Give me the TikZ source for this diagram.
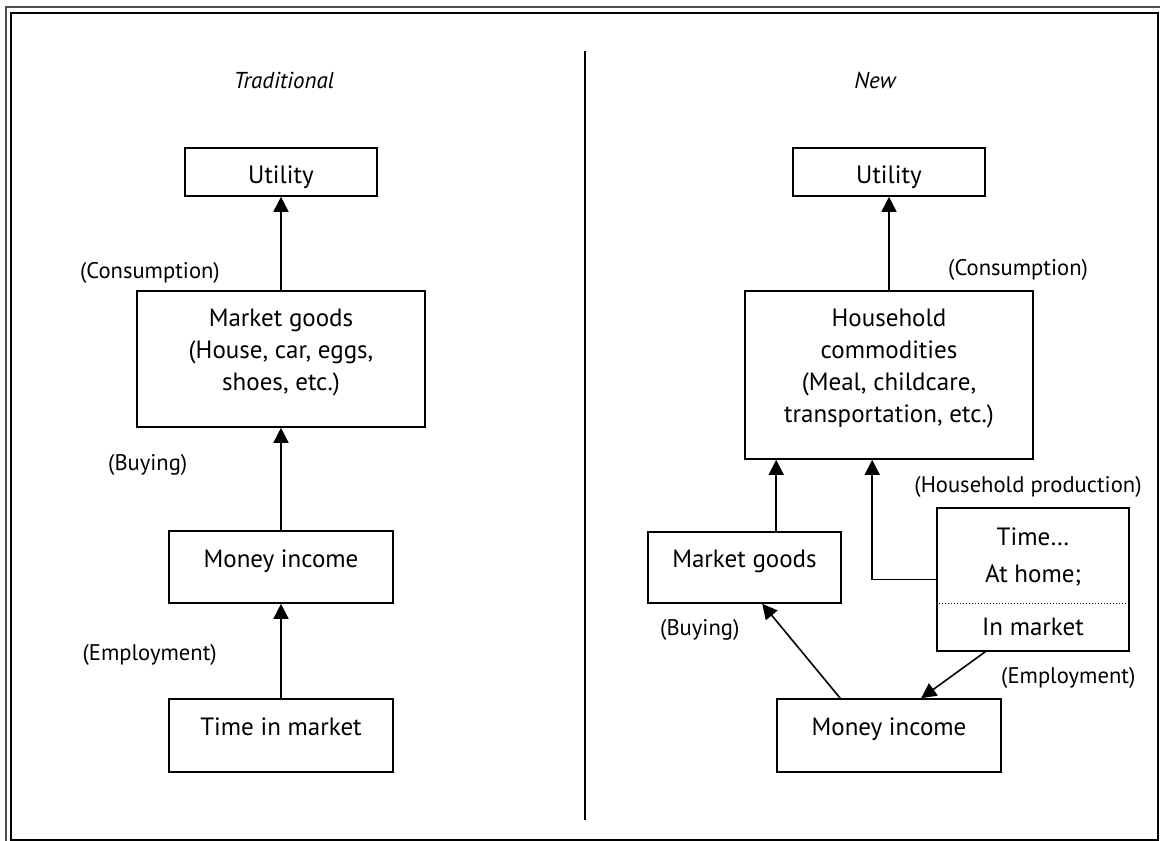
\documentclass[tikz,border=0pt]{standalone}
\usepackage{fontspec}
\setmainfont{PT Sans}
\usetikzlibrary{arrows.meta,calc}
\begin{document}
\begin{tikzpicture}[x=1pt,y=-1pt,
  box/.style={draw,line width=1.6pt,inner sep=0pt},
  txt/.style={inner sep=0pt,font=\fontsize{25}{32}\selectfont},
  lbl/.style={inner sep=0pt,font=\fontsize{22.6}{28}\selectfont},
  ttl/.style={inner sep=0pt,font=\fontsize{23}{28}\selectfont\itshape},
  arr/.style={line width=1.6pt,-{Triangle[length=15pt,width=15pt]}}]
\useasboundingbox (0,0) rectangle (1160,841);
% frame
\draw[line width=1.6pt,black!70] (6,841) -- (6,7) -- (1160,7);
\draw[line width=2.6pt] (11,13) rectangle (1158,840);
% divider
\coordinate (dtop) at (585,51);
\coordinate (dbot) at (585,820);
\draw[line width=2pt] (dtop) -- (dbot);
% titles
\node[ttl,anchor=base] (tT) at (284,88) {Traditional};
\node[ttl,anchor=base] (tN) at (875,88) {New};
% left boxes
\node[box,minimum width=192pt,minimum height=48pt] (utL) at (281,172) {};
\node[box,minimum width=288pt,minimum height=136pt] (mgL) at (281,359) {};
\node[box,minimum width=224pt,minimum height=72pt] (miL) at (281,567) {};
\node[box,minimum width=224pt,minimum height=73pt] (tmL) at (281,735.5) {};
\node[txt,anchor=base] (utLt) at (281,183) {Utility};
\node[txt,anchor=base] (mgLa) at (281,326) {Market goods};
\node[txt,anchor=base] (mgLb) at (281,358) {(House, car, eggs,};
\node[txt,anchor=base] (mgLc) at (281,390) {shoes, etc.)};
\node[txt,anchor=base] (miLt) at (281,567) {Money income};
\node[txt,anchor=base] (tmLt) at (281,735) {Time in market};
% left labels
\node[lbl,anchor=base east] (cL) at (220,278) {(Consumption)};
\node[lbl,anchor=base west] (bL) at (108,470) {(Buying)};
\node[lbl,anchor=base east] (eL) at (217,660) {(Employment)};
% right boxes
\node[box,minimum width=192pt,minimum height=48pt] (utR) at (889,172) {};
\node[box,minimum width=288pt,minimum height=168pt] (hcR) at (889,375) {};
\node[box,minimum width=193pt,minimum height=71pt] (mgR) at (744.5,567.5) {};
\node[box,minimum width=192pt,minimum height=143pt] (tiR) at (1033,579.5) {};
\node[box,minimum width=224pt,minimum height=73pt] (miR) at (889,735.5) {};
\node[txt,anchor=base] (utRt) at (889,183) {Utility};
\node[txt,anchor=base] (hcRa) at (889,326) {Household};
\node[txt,anchor=base] (hcRb) at (889,358) {commodities};
\node[txt,anchor=base] (hcRc) at (889,390) {(Meal, childcare,};
\node[txt,anchor=base] (hcRd) at (889,422) {transportation, etc.)};
\node[txt,anchor=base] (mgRt) at (744.5,567) {Market goods};
\node[txt,anchor=base] (tiRa) at (1033,545) {Time\dots};
\node[txt,anchor=base] (tiRb) at (1033,582) {At home;};
\node[txt,anchor=base] (tiRc) at (1033,635) {In market};
\node[txt,anchor=base] (miRt) at (889,735) {Money income};
\draw[dotted,line width=1pt] ($(tiR.south west)+(0,-48)$) -- ($(tiR.south east)+(0,-48)$);
% right labels
\node[lbl,anchor=base west] (cR) at (948,275) {(Consumption)};
\node[lbl,anchor=base] (hpR) at (1028,492) {(Household production)};
\node[lbl,anchor=base west] (bR) at (660,635) {(Buying)};
\node[lbl,anchor=base west] (eR) at (1001,683) {(Employment)};
% left connectors
\draw[arr] (mgL.north) -- (utL.south);
\draw[arr] (miL.north) -- (mgL.south);
\draw[arr] (tmL.north) -- (miL.south);
% right connectors
\draw[arr] (hcR.north) -- (utR.south);
\draw[arr] ($(mgR.north west)+(129,0)$) -- ($(hcR.south west)+(32,0)$);
\draw[arr] (tiR.west) -| ($(hcR.south west)+(128,0)$);
\draw[arr] ($(miR.north west)+(64,0)$) -- ($(mgR.south west)+(115,0)$);
\draw[arr] ($(tiR.south west)+(49,0)$) -- ($(miR.north west)+(145,0)$);
\end{tikzpicture}
\end{document}
